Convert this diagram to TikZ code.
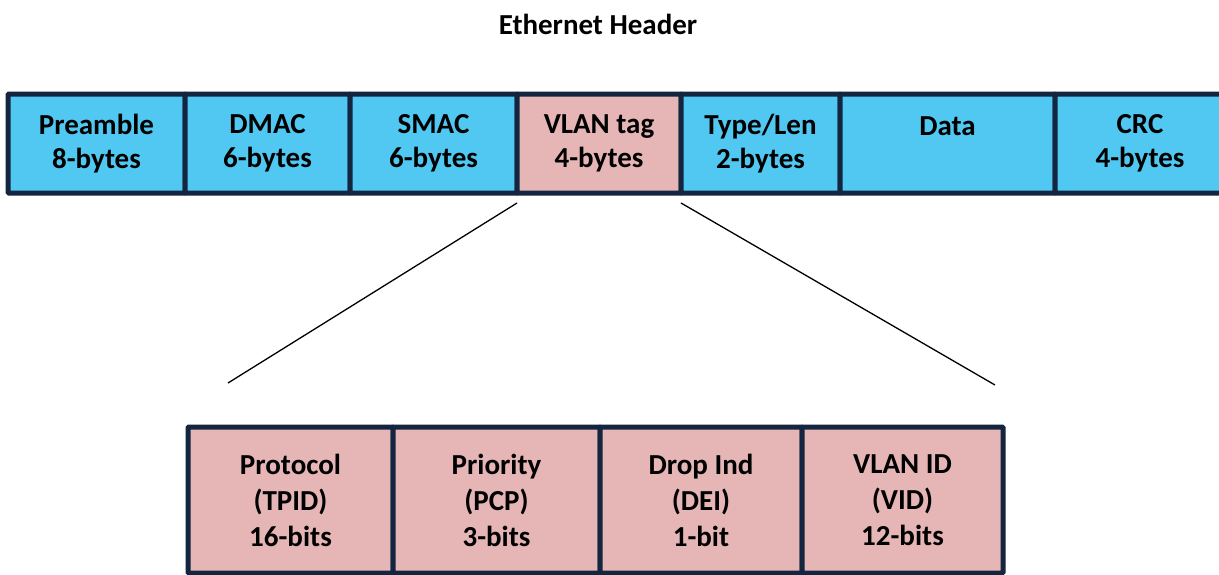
\documentclass[tikz,border=0pt]{standalone}
\usepackage{fontspec}
\setmainfont{Carlito}
\usepackage{tikz}
\usetikzlibrary{positioning}
\definecolor{fldblue}{RGB}{80,200,242}
\definecolor{fldpink}{RGB}{230,182,182}
\definecolor{fldnavy}{RGB}{20,38,63}
\tikzset{
  fld/.style = {rectangle, align=center, inner sep=0pt, outer sep=0pt,
    draw=fldnavy, line width=5pt, rounded corners=1pt,
    font=\fontsize{29}{34}\selectfont\bfseries},
  fld_b/.style = {fld, fill=fldblue, minimum height=99pt},% ethernet field
  fld_r/.style = {fld, fill=fldpink, minimum height=99pt},% vlan tag
  tag_f/.style = {fld, fill=fldpink, minimum height=146pt,
    font=\fontsize{29}{36}\selectfont\bfseries}% vlan tag sub-field
}
\begin{document}
\begin{tikzpicture}[x=1pt,y=-1pt]
\useasboundingbox (0,0) rectangle (1219,574);
\node [font=\fontsize{29}{34}\selectfont\bfseries] (title) at (598,24) {Ethernet Header};
% ethernet frame
\node [fld_b, minimum width=177pt] (pre) at (96.5,143.5) {Preamble\\8-bytes};
\node [fld_b, minimum width=165pt, right=0pt of pre] (dmac) {DMAC\\6-bytes};
\node [fld_b, minimum width=167pt, right=0pt of dmac] (smac) {SMAC\\6-bytes};
\node [fld_r, minimum width=164pt, right=0pt of smac] (vlan) {VLAN tag\\4-bytes};
\node [fld_b, minimum width=159pt, right=0pt of vlan] (type) {Type/Len\\2-bytes};
\node [fld_b, minimum width=215pt, right=0pt of type] (data) {Data\\~};
\node [fld_b, minimum width=170pt, right=0pt of data] (crc) {CRC\\4-bytes};
% vlan tag fields
\node [tag_f, minimum width=205pt] (tpid) at (290.5,500) {Protocol\\(TPID)\\16-bits};
\node [tag_f, minimum width=207pt, right=0pt of tpid] (pcp) {Priority\\(PCP)\\3-bits};
\node [tag_f, minimum width=202pt, right=0pt of pcp] (dei) {Drop Ind\\(DEI)\\1-bit};
\node [tag_f, minimum width=201pt, right=0pt of dei] (vid) {VLAN ID\\(VID)\\12-bits};
\coordinate (vlanL) at ([yshift=-10pt]vlan.south west);
\coordinate (vlanR) at ([yshift=-10pt]vlan.south east);
\coordinate (cutL) at (228,383);
\coordinate (cutR) at (995,385);
\draw [line width=1.3pt] (vlanL) -- (cutL);
\draw [line width=1.3pt] (vlanR) -- (cutR);
\end{tikzpicture}
\end{document}
